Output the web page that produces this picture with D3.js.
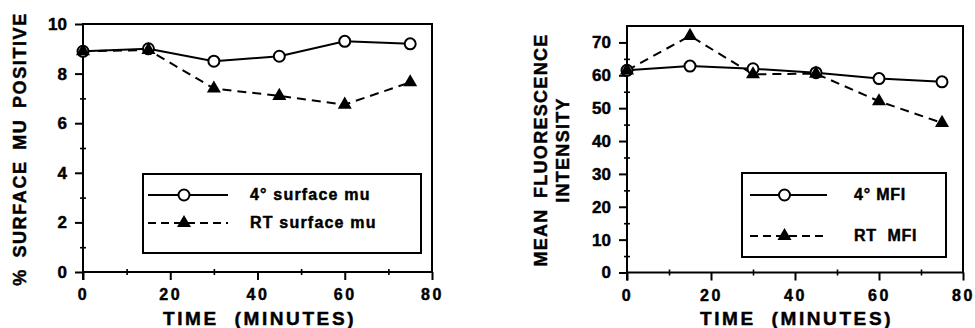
<!DOCTYPE html>
<html>
<head>
<meta charset="utf-8">
<script src="https://cdn.jsdelivr.net/npm/d3@7"></script>
<style>
  html, body { margin: 0; padding: 0; background: #fff; }
  svg { display: block; }
  svg text { font-family: "Liberation Sans", Arial, sans-serif; font-weight: bold; fill: #000; stroke: #000; stroke-width: 0.45px; }
</style>
</head>
<body>
<svg id="chart" width="975" height="328"></svg>
<script>
// time points (minutes)
const times = [0, 15, 30, 45, 60, 75];
// left panel: % surface mu positive
const surface4 = [8.9, 9.0, 8.5, 8.7, 9.3, 9.2];
const surfaceRT = [8.9, 8.95, 7.4, 7.1, 6.75, 7.65];
// right panel: mean fluorescence intensity
const mfi4 = [61.5, 62.8, 62.0, 60.8, 59.0, 58.0];
const mfiRT = [61.5, 72.0, 60.3, 60.5, 52.1, 45.5];

const xTicks = [0, 20, 40, 60, 80];
const xMinor = [10, 30, 50, 70];
const leftYTicks = [0, 2, 4, 6, 8, 10];
const leftYMinor = [1, 3, 5, 7, 9];
const rightYTicks = [0, 10, 20, 30, 40, 50, 60, 70];
const rightYMinor = [5, 15, 25, 35, 45, 55, 65];

const svg = d3.select('#chart');

function drawPanel(p) {
  const g = svg.append('g');
  const x = d3.scaleLinear().domain([0, 80]).range([p.x0, p.x1]);
  const y = d3.scaleLinear().domain(p.yDomain).range([p.y0, p.y1]);

  // frame
  g.append('rect')
    .attr('x', x(0)).attr('y', p.y1)
    .attr('width', x(80) - x(0)).attr('height', p.y0 - p.y1)
    .attr('fill', 'none').attr('stroke', '#000').attr('stroke-width', 2);

  // x axis major
  const xa = g.append('g').attr('transform', `translate(0,${p.y0})`)
    .call(d3.axisBottom(x).tickValues(xTicks).tickSize(8).tickPadding(9).tickFormat(d3.format('d')));
  xa.select('.domain').remove();
  xa.selectAll('line').attr('stroke-width', 2);
  xa.selectAll('text').attr('font-size', 16).attr('letter-spacing', 2.5);
  // x axis minor
  const xm = g.append('g').attr('transform', `translate(0,${p.y0 - 3})`)
    .call(d3.axisBottom(x).tickValues(xMinor).tickSize(6).tickFormat(''));
  xm.select('.domain').remove();
  xm.selectAll('line').attr('stroke-width', 1.6);

  // y axis major
  const ya = g.append('g').attr('transform', `translate(${x(0)},0)`)
    .call(d3.axisLeft(y).tickValues(p.yTicks).tickSize(8).tickPadding(p.yPad).tickFormat(d3.format('d')));
  ya.select('.domain').remove();
  ya.selectAll('line').attr('stroke-width', 2);
  ya.selectAll('text').attr('font-size', 17);
  // y axis minor
  const ym = g.append('g').attr('transform', `translate(${x(0) + 3},0)`)
    .call(d3.axisLeft(y).tickValues(p.yMinor).tickSize(6).tickFormat(''));
  ym.select('.domain').remove();
  ym.selectAll('line').attr('stroke-width', 1.6);

  // y-axis origin extension below zero
  g.append('line').attr('x1', x(0)).attr('x2', x(0)).attr('y1', p.y0).attr('y2', p.y0 + 8)
    .attr('stroke', '#000').attr('stroke-width', 2);

  // series lines
  const line = d3.line().x((d, i) => x(times[i])).y(d => y(d));
  g.append('path').datum(p.s4).attr('d', line)
    .attr('fill', 'none').attr('stroke', '#000').attr('stroke-width', 2);
  g.append('path').datum(p.sRT).attr('d', line)
    .attr('fill', 'none').attr('stroke', '#000').attr('stroke-width', 2)
    .attr('stroke-dasharray', '9,6');

  // markers
  g.selectAll('circle.m4').data(p.s4).enter().append('circle')
    .attr('cx', (d, i) => x(times[i])).attr('cy', d => y(d)).attr('r', 5.5)
    .attr('fill', '#fff').attr('stroke', '#000').attr('stroke-width', 2);
  const tri = d3.symbol().type(d3.symbolTriangle).size(85);
  g.selectAll('path.mrt').data(p.sRT).enter().append('path')
    .attr('d', tri)
    .attr('transform', (d, i) => `translate(${x(times[i])},${y(d)})`)
    .attr('fill', '#000');

  // legend
  const L = p.legend;
  g.append('rect').attr('x', L.x).attr('y', L.y).attr('width', L.w).attr('height', L.h)
    .attr('fill', '#fff').attr('stroke', '#000').attr('stroke-width', 2);
  const rows = [
    { label: p.labels[0], dash: null, marker: 'circle', ry: L.r1 },
    { label: p.labels[1], dash: '8,5', marker: 'tri', ry: L.r2 }
  ];
  rows.forEach(r => {
    g.append('line').attr('x1', L.lx0).attr('x2', L.lx1).attr('y1', r.ry).attr('y2', r.ry)
      .attr('stroke', '#000').attr('stroke-width', 2).attr('stroke-dasharray', r.dash);
    const mx = (L.lx0 + L.lx1) / 2 - 4;
    if (r.marker === 'circle') {
      g.append('circle').attr('cx', mx).attr('cy', r.ry).attr('r', 5.5)
        .attr('fill', '#fff').attr('stroke', '#000').attr('stroke-width', 2);
    } else {
      g.append('path').attr('d', tri).attr('transform', `translate(${mx},${r.ry})`).attr('fill', '#000');
    }
    g.append('text').attr('x', L.tx).attr('y', r.ry + 5)
      .attr('font-size', 16).attr('letter-spacing', L.ls)
      .style('white-space', 'pre')
      .text(r.label);
  });

  // y title(s)
  p.yTitle.forEach(t => {
    g.append('text')
      .attr('transform', `translate(${t.x},${t.y}) rotate(-90)`)
      .attr('text-anchor', 'middle').attr('font-size', 18)
      .attr('letter-spacing', t.ls).attr('word-spacing', 4)
      .text(t.text);
  });

  // x title
  g.append('text').attr('x', p.xt).attr('y', 325)
    .attr('font-size', 19).attr('letter-spacing', 2.6)
    .style('white-space', 'pre')
    .text('TIME  (MINUTES)');
}

drawPanel({
  x0: 83, x1: 432, y0: 272, y1: 24,
  yDomain: [0, 10], yTicks: leftYTicks, yMinor: leftYMinor, yPad: 8,
  s4: surface4, sRT: surfaceRT,
  labels: ['4° surface mu', 'RT surface mu'],
  legend: { x: 143, y: 174, w: 278, h: 79, r1: 195, r2: 223, lx0: 148, lx1: 228, tx: 250, ls: 1.2 },
  yTitle: [{ text: '% SURFACE MU POSITIVE', x: 26, y: 149, ls: 1.6 }],
  xt: 163
});

drawPanel({
  x0: 627, x1: 963, y0: 272.5, y1: 26,
  yDomain: [0, 75], yTicks: rightYTicks, yMinor: rightYMinor, yPad: 8,
  s4: mfi4, sRT: mfiRT,
  labels: ['4° MFI', 'RT  MFI'],
  legend: { x: 742, y: 173, w: 204, h: 84, r1: 195, r2: 236, lx0: 750, lx1: 827, tx: 854, ls: 0.8 },
  yTitle: [
    { text: 'MEAN FLUORESCENCE', x: 547, y: 150, ls: 1.3 },
    { text: 'INTENSITY', x: 569, y: 150, ls: 1.3 }
  ],
  xt: 700
});
</script>
</body>
</html>
